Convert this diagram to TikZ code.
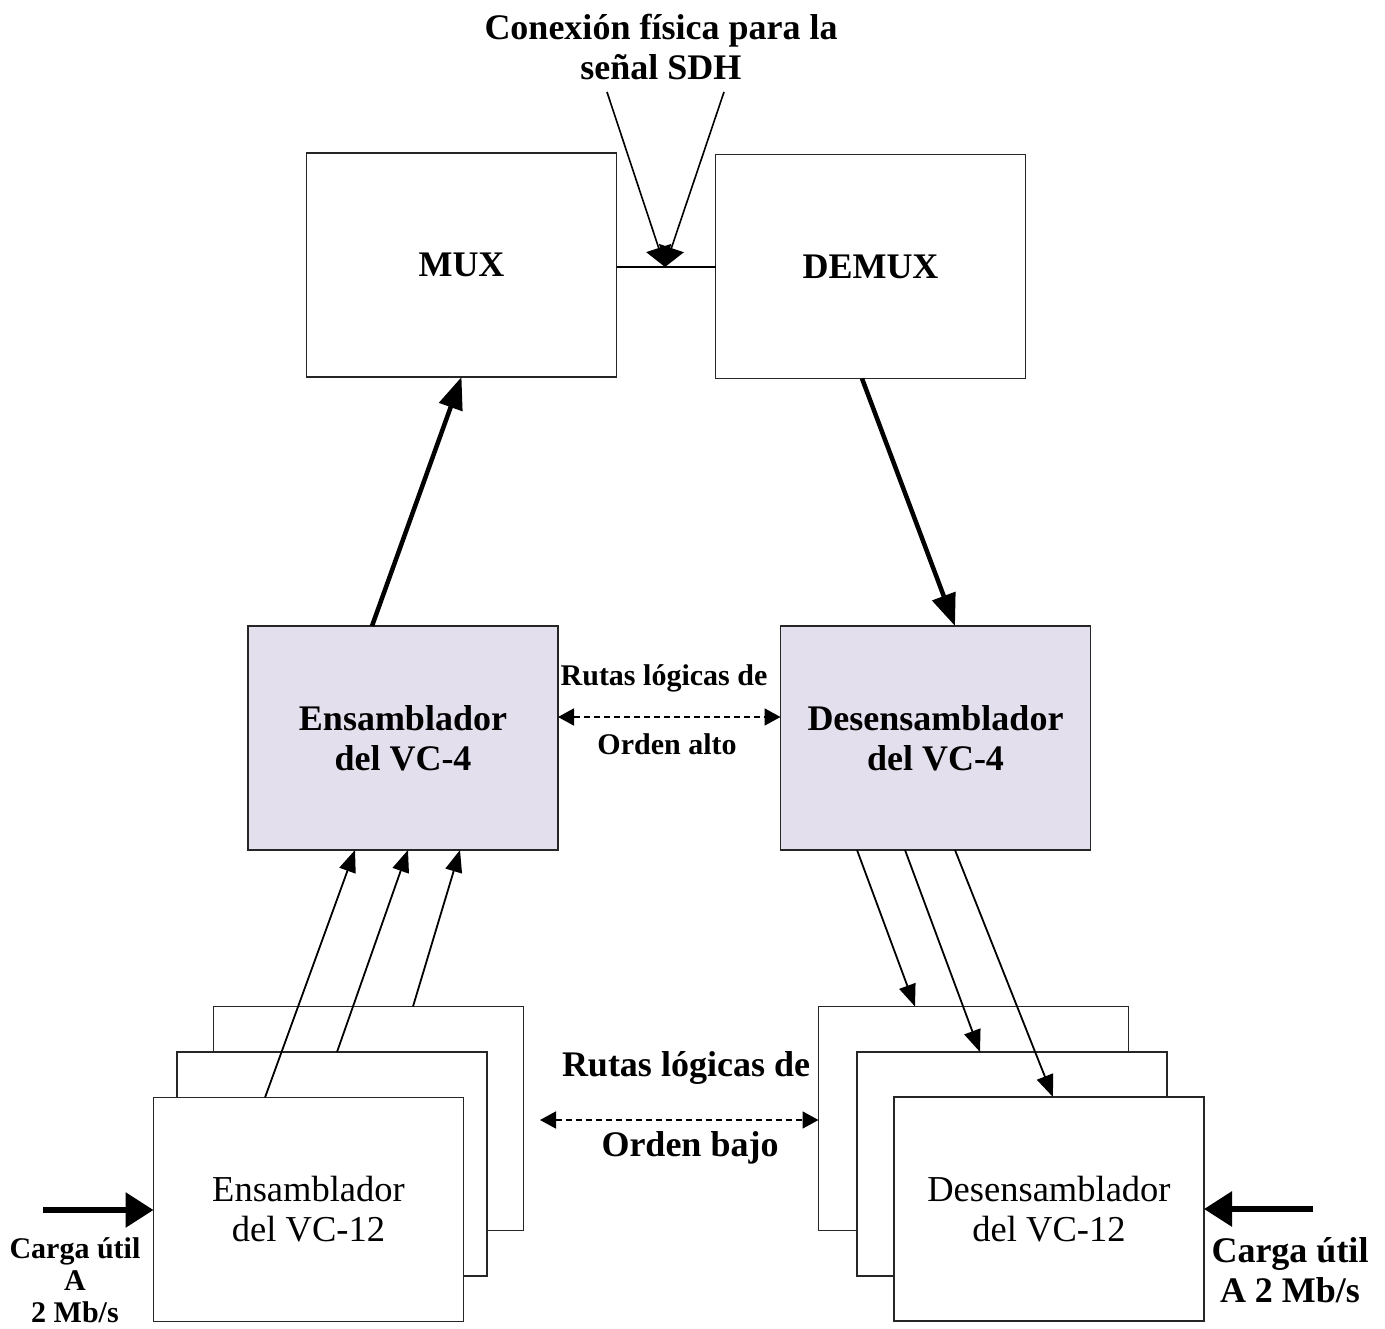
\documentclass[tikz,border=0pt]{standalone}
\usepackage{fontspec}
\setmainfont{Liberation Serif}
\usetikzlibrary{arrows.meta}
\definecolor{vcfill}{RGB}{228,223,237}
\begin{document}
\begin{tikzpicture}[x=1pt,y=-1pt,
  box/.style={draw=black!85, line width=1.8pt, fill=white, inner sep=0pt, outer sep=0pt,
              minimum width=310pt, minimum height=224pt, align=center},
  hobox/.style={box, fill=vcfill},
  bigbold/.style={font=\fontsize{36}{40}\selectfont\bfseries},
  midbold/.style={font=\fontsize{30}{34}\selectfont\bfseries},
  plain/.style={font=\fontsize{36.5}{40}\selectfont},
  lbl/.style={inner sep=0pt, align=center},
  fatarrow/.style={line width=4.5pt, -{Triangle[length=32pt,width=24pt]}},
  thinarrow/.style={line width=1.8pt, -{Triangle[length=22pt,width=17pt]}},
  feedarrow/.style={line width=6pt, -{Triangle[length=28pt,width=34pt]}},
  pointer/.style={line width=1.6pt, -{Triangle[length=20pt,width=26pt]}},
  routearrow/.style={line width=1.8pt, dashed, dash pattern=on 6pt off 4pt,
                     {Triangle[length=16pt,width=17pt]}-{Triangle[length=16pt,width=17pt]}}
]
\useasboundingbox (0,0) rectangle (1385,1329);

% --- SDH line equipment ---
\node[box, bigbold] (mux)   at (461.5,265)   {MUX};
\node[box, bigbold] (demux) at (870.5,266.5) {DEMUX};
\coordinate (sdh) at (665,267);
\draw[line width=1.6pt] (mux.east |- sdh) -- (demux.west |- sdh);

\node[lbl, bigbold] (title) at (661,47) {Conexión física para la\\señal SDH};
\coordinate (pl) at (607,92);
\coordinate (pr) at (724,92);
\draw[pointer] (pl) -- (sdh);
\draw[pointer] (pr) -- (sdh);

% --- higher-order path (VC-4) ---
\node[hobox, bigbold] (ens4) at (403,738)   {Ensamblador\\del VC-4};
\node[hobox, bigbold] (des4) at (935.5,738) {Desensamblador\\del VC-4};

\draw[fatarrow] ([xshift=-31pt]ens4.north) -- (mux.south);
\draw[fatarrow] ([xshift=-8.5pt]demux.south) -- ([xshift=19.5pt]des4.north);

\node[lbl, midbold] (rla) at (664,678) {Rutas lógicas de};
\node[lbl, midbold] (oal) at (667,744) {Orden alto};
\draw[routearrow] ([yshift=21pt]ens4.east) -- ([yshift=21pt]des4.west);

% --- lower-order path (VC-12), stacked assemblers ---
\node[box] (lback)  at (368.5,1118.5) {};
\node[box] (lmid)   at (332,1164)     {};
\node[box, plain] (lfront) at (308.5,1209.5) {Ensamblador\\del VC-12};

\node[box] (rback)  at (973.5,1118.5) {};
\node[box] (rmid)   at (1012,1164)    {};
\node[box, plain] (rfront) at (1049,1209) {Desensamblador\\del VC-12};

\draw[thinarrow] ([xshift=-43.5pt]lfront.north) -- ([xshift=-48pt]ens4.south);
\draw[thinarrow] ([xshift=5pt]lmid.north)       -- ([xshift=5pt]ens4.south);
\draw[thinarrow] ([xshift=44.5pt]lback.north)   -- ([xshift=57pt]ens4.south);

\draw[thinarrow] ([xshift=-78.5pt]des4.south) -- ([xshift=-58.5pt]rback.north);
\draw[thinarrow] ([xshift=-30.5pt]des4.south) -- ([xshift=-32pt]rmid.north);
\draw[thinarrow] ([xshift=19.5pt]des4.south)  -- ([xshift=4pt]rfront.north);

\node[lbl, bigbold] (rlb) at (686,1068) {Rutas lógicas de};
\node[lbl, bigbold] (oba) at (690,1148) {Orden bajo};
\coordinate (lowl) at (540,1120);
\draw[routearrow] (lowl) -- (rback.west |- lowl);

% --- 2 Mb/s payload inputs ---
\coordinate (inl) at (43,1210);
\draw[feedarrow] (inl) -- (lfront.west |- inl);
\node[lbl, font=\fontsize{30}{32}\selectfont\bfseries] (cl) at (75,1280) {Carga útil\\A\\2 Mb/s};

\coordinate (inr) at (1313,1209);
\draw[feedarrow] (inr) -- (rfront.east |- inr);
\node[lbl, bigbold] (cr) at (1290,1270) {Carga útil\\A 2 Mb/s};
\end{tikzpicture}
\end{document}
